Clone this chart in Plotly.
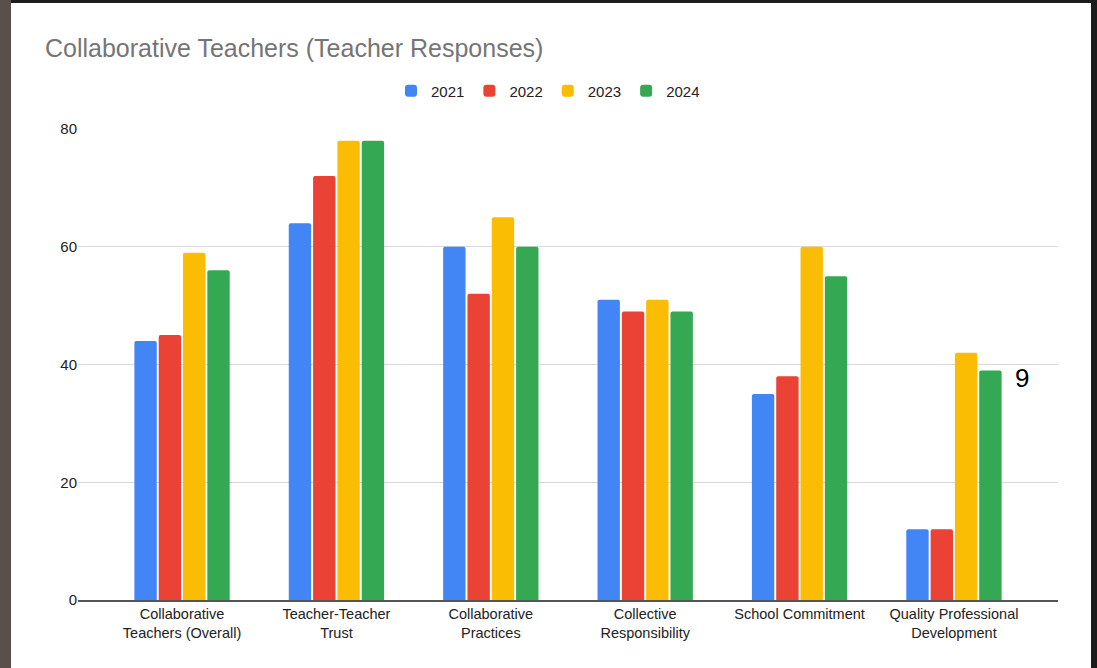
import plotly.graph_objects as go

categories = [
    "Collaborative<br>Teachers (Overall)",
    "Teacher-Teacher<br>Trust",
    "Collaborative<br>Practices",
    "Collective<br>Responsibility",
    "School Commitment",
    "Quality Professional<br>Development",
]
years = ["2021", "2022", "2023", "2024"]
v2021 = [44, 64, 60, 51, 35, 12]
v2022 = [45, 72, 52, 49, 38, 12]
v2023 = [59, 78, 65, 51, 60, 42]
v2024 = [56, 78, 60, 49, 55, 39]
colors = ["#4285F4", "#EA4335", "#FBBC04", "#34A853"]
series = [v2021, v2022, v2023, v2024]

W, H = 1097, 668
L, R, T, B = 78, 39, 129, 68
pw, ph = W - L - R, H - T - B


def px_x(x):
    return (x - L) / pw


def px_y(y):
    return (H - B - y) / ph


fig = go.Figure()
for name, vals, c in zip(years, series, colors):
    fig.add_trace(go.Bar(x=categories, y=vals, name=name, marker_color=c,
                         marker_line_width=0))

fig.update_layout(
    width=W, height=H,
    margin=dict(l=L, r=R, t=T, b=B, pad=0),
    paper_bgcolor="#1c1c1c",
    plot_bgcolor="white",
    barmode="group",
    bargap=0.37,
    bargroupgap=0.08,
    barcornerradius=2,
    font=dict(family="Liberation Sans, Arial, sans-serif", size=15, color="#222222"),
    title=dict(text="Collaborative Teachers (Teacher Responses)",
               font=dict(size=25, color="#757575"),
               x=45 / W, xref="container", xanchor="left",
               y=1 - 48 / H, yref="container", yanchor="middle"),
    legend=dict(orientation="h", x=px_x(548), xanchor="center",
                y=px_y(91), yanchor="middle", font=dict(size=15, color="#222222"),
                itemwidth=30, bgcolor="rgba(0,0,0,0)"),
    xaxis=dict(range=[-0.674, 5.674], showgrid=False, showline=True,
               linecolor="#555555", linewidth=2, ticks="",
               tickfont=dict(size=14.5, color="#222222")),
    yaxis=dict(range=[0, 80], tickvals=[0, 20, 40, 60, 80], showgrid=True,
               gridcolor="#d9d9d9", gridwidth=1, zeroline=False, showline=False,
               ticks="", ticklen=0, tickfont=dict(size=15, color="#222222")),
    shapes=[
        dict(type="rect", xref="paper", yref="paper", layer="below",
             x0=px_x(11), x1=px_x(1091), y0=px_y(H + 5), y1=px_y(3),
             fillcolor="white", line_width=0),
        dict(type="rect", xref="paper", yref="paper", layer="below",
             x0=px_x(-5), x1=px_x(11), y0=px_y(H + 5), y1=px_y(0),
             fillcolor="#57504b", line_width=0),
    ],
    annotations=[
        dict(text="9", xref="paper", yref="paper", x=px_x(1022), y=px_y(378),
             showarrow=False, font=dict(size=26, color="black"),
             xanchor="center", yanchor="middle"),
    ],
)

fig.write_html("out.html",
               config={"displayModeBar": False},
               post_script="document.body.style.margin='0';document.body.style.overflow='hidden';")
